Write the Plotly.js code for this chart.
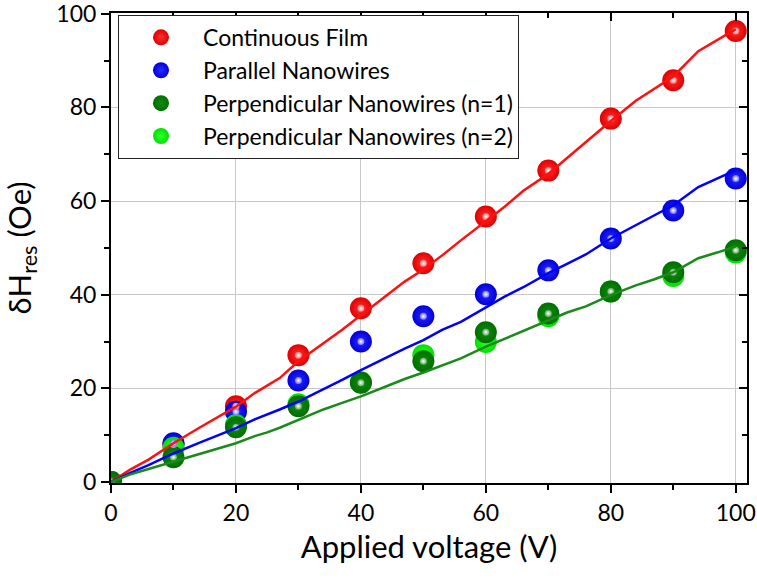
<!DOCTYPE html>
<html>
<head>
<meta charset="utf-8">
<script src="https://cdn.plot.ly/plotly-3.0.1.min.js"></script>
<style>html,body{margin:0;padding:0;background:#fff}#chart{width:757px;height:579px}</style>
</head>
<body>
<div id="chart"></div>
<script>
// Measured points
var voltage = [0, 10, 20, 30, 40, 50, 60, 70, 80, 90, 100];
var continuousFilm = [0, 8.0, 16.2, 27.1, 37.1, 46.7, 56.7, 66.5, 77.6, 85.8, 96.3];
var parallelNW = [0, 8.3, 15.0, 21.7, 30.0, 35.4, 40.1, 45.2, 52.0, 58.0, 64.8];
var perpNW1 = [0, 5.3, 11.7, 16.2, 21.2, 25.8, 32.0, 36.0, 40.7, 44.8, 49.5];
var perpNW2 = [0, 7.3, 12.2, 16.6, 21.3, 27.1, 29.9, 35.4, 40.7, 44.0, 49.0];

// Simulated curves
var simVoltage = [0, 3, 6, 10, 14, 17, 20, 23, 25, 27, 30, 34, 37, 40, 44, 47, 50, 53, 56, 60, 63, 66, 70, 73, 76, 80, 84, 87, 90, 94, 97, 100];
var simFilm = [0, 2.6, 4.8, 8.3, 11.5, 13.8, 16.1, 19.0, 20.6, 22.2, 25.8, 29.6, 32.5, 35.6, 39.8, 42.8, 45.4, 48.4, 51.6, 55.6, 58.8, 62.2, 65.8, 69.2, 72.6, 77.1, 81.4, 84.0, 86.6, 92.0, 94.3, 96.7];
var simParallel = [0, 1.9, 3.6, 6.1, 8.3, 9.9, 11.5, 13.4, 14.4, 15.5, 17.2, 19.8, 21.8, 23.9, 26.6, 28.5, 30.3, 32.5, 34.2, 37.3, 39.6, 41.6, 44.6, 46.6, 48.6, 52.0, 54.9, 57.0, 59.1, 63.0, 64.8, 66.6];
var simPerp = [0, 1.6, 2.8, 4.4, 6.0, 7.2, 8.3, 9.8, 10.6, 11.6, 13.3, 15.5, 16.9, 18.3, 20.4, 22.0, 23.4, 24.9, 26.4, 28.9, 30.6, 32.2, 34.6, 36.2, 37.5, 39.9, 42.0, 43.3, 44.8, 47.8, 49.0, 50.3];

var names = ["Continuous Film", "Parallel Nanowires", "Perpendicular Nanowires (n=1)", "Perpendicular Nanowires (n=2)"];

var FONT = "Lato, 'Open Sans', sans-serif";

function ballTrace(y, name, edge, center, rank) {
  return {
    x: voltage, y: y, name: name, type: 'scatter', mode: 'markers',
    legendrank: rank,
    marker: {size: 22, color: edge, gradient: {type: 'radial', color: center}, line: {width: 0}},
    hoverinfo: 'x+y'
  };
}
function glintTrace(y, color) {
  return {
    x: voltage, y: y, type: 'scatter', mode: 'markers', showlegend: false, hoverinfo: 'skip',
    marker: {size: 7, color: color, gradient: {type: 'radial', color: '#ffffff'}, line: {width: 0}}
  };
}
function lineTrace(y, color) {
  return {
    x: simVoltage, y: y, type: 'scatter', mode: 'lines', showlegend: false, hoverinfo: 'skip',
    line: {color: color, width: 2.5}
  };
}

var data = [
  ballTrace(continuousFilm, names[0], '#e00000', '#ff3030', 1),
  ballTrace(parallelNW, names[1], '#0000d8', '#2a2aff', 2),
  ballTrace(perpNW2, names[3], '#00e000', '#30ff30', 4),
  ballTrace(perpNW1, names[2], '#006e00', '#108c10', 3),
  glintTrace(continuousFilm, '#ff7070'),
  glintTrace(parallelNW, '#7070ff'),
  glintTrace(perpNW1, '#60a860'),
  lineTrace(simFilm, '#ff1010'),
  lineTrace(simParallel, '#0000ff'),
  lineTrace(simPerp, '#1a8a1a'),
  {x: voltage, y: continuousFilm, xaxis: 'x2', yaxis: 'y2', type: 'scatter', mode: 'markers',
   marker: {opacity: 0}, showlegend: false, hoverinfo: 'skip'}
];

var axisBase = {
  showline: true, linewidth: 2, linecolor: '#000', zeroline: false,
  tickwidth: 2, tickcolor: '#000', ticklen: 8, ticklabeloverflow: 'allow',
  tickfont: {family: FONT, size: 23, color: '#000'}
};

var layout = {
  width: 757, height: 579,
  margin: {l: 111, r: 10, t: 13, b: 96},
  paper_bgcolor: '#fff', plot_bgcolor: '#fff',
  showlegend: true,
  legend: {
    x: 0.011, y: 0.996, xanchor: 'left', yanchor: 'top',
    bgcolor: '#fff', bordercolor: '#222', borderwidth: 1,
    font: {family: FONT, size: 23, color: '#000'},
    itemwidth: 74, tracegroupgap: 0
  },
  xaxis: Object.assign({}, axisBase, {
    range: [0, 101.8], tick0: 0, dtick: 20, ticks: 'outside',
    showgrid: true, gridcolor: '#c8c8c8', gridwidth: 1,
    minor: {dtick: 10, tick0: 0, ticks: 'outside', ticklen: 5, tickwidth: 2, tickcolor: '#000', showgrid: false},
    title: {text: 'Applied voltage (V)', font: {family: FONT, size: 31, color: '#000'}, standoff: 12}
  }),
  yaxis: Object.assign({}, axisBase, {
    range: [-0.2, 100.15], tick0: 0, dtick: 20, ticks: 'outside',
    showgrid: true, gridcolor: '#c8c8c8', gridwidth: 1,
    minor: {dtick: 10, tick0: 0, ticks: 'outside', ticklen: 5, tickwidth: 2, tickcolor: '#000', showgrid: false},
    title: {text: 'δH<sub>res</sub> (Oe)', font: {family: FONT, size: 31, color: '#000'}, standoff: 24}
  }),
  xaxis2: {
    overlaying: 'x', matches: 'x', side: 'top', anchor: 'y2',
    showline: true, linewidth: 2, linecolor: '#000', zeroline: false, showgrid: false,
    ticks: 'inside', ticklen: 8, tickwidth: 2, tickcolor: '#000', tick0: 0, dtick: 20, showticklabels: false,
    minor: {dtick: 10, tick0: 0, ticks: 'inside', ticklen: 5, tickwidth: 2, tickcolor: '#000', showgrid: false}
  },
  yaxis2: {
    overlaying: 'y', matches: 'y', side: 'right', anchor: 'x2',
    showline: true, linewidth: 2, linecolor: '#000', zeroline: false, showgrid: false,
    ticks: 'inside', ticklen: 8, tickwidth: 2, tickcolor: '#000', tick0: 0, dtick: 20, showticklabels: false,
    minor: {dtick: 10, tick0: 0, ticks: 'inside', ticklen: 5, tickwidth: 2, tickcolor: '#000', showgrid: false}
  }
};

Plotly.newPlot('chart', data, layout, {displayModeBar: false, staticPlot: true});
</script>
</body>
</html>
